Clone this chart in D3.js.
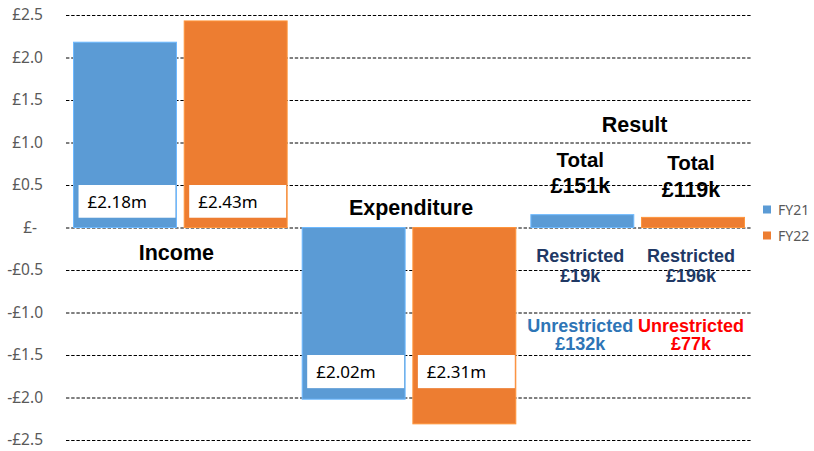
<!DOCTYPE html>
<html>
<head>
<meta charset="utf-8">
<script src="https://cdn.jsdelivr.net/npm/d3@7"></script>
<style>
  body { margin: 0; background: #fff; }
  .tick text { font-family: "Noto Sans", sans-serif; font-size: 15.5px; fill: #595959; }
  .tick line { stroke: #000; stroke-dasharray: 3.4 1.8; }
</style>
</head>
<body>
<svg id="chart" width="814" height="451"></svg>
<script>
// values in £m
const categories = ["Income", "Expenditure", "Result"];
const seriesNames = ["FY21", "FY22"];
const fy21 = [2.18, -2.02, 0.151];
const fy22 = [2.43, -2.31, 0.119];
const valueLabels = { FY21: ["£2.18m", "£2.02m"], FY22: ["£2.43m", "£2.31m"] };
const yTicks = [2.5, 2.0, 1.5, 1.0, 0.5, 0, -0.5, -1.0, -1.5, -2.0, -2.5];
const totals = ["£151k", "£119k"];
const restricted = ["£19k", "£196k"];
const unrestricted = ["£132k", "£77k"];

const colors = { FY21: "#5B9BD5", FY22: "#ED7D31" };
const left = 66, right = 752;

const svg = d3.select("#chart");

const y = d3.scaleLinear().domain([-2.5, 2.5]).range([440, 15]);
const x0 = d3.scaleBand().domain(categories).range([left, right]);
const x1 = d3.scaleBand().domain(seriesNames).range([0, x0.bandwidth()])
    .paddingInner(0.07).paddingOuter(0.068);

const fmt = v => v === 0 ? "£-" : (v < 0 ? "-" : "") + "£" + Math.abs(v).toFixed(1);

// gridlines + tick labels
const yAxis = svg.append("g")
    .attr("transform", "translate(" + left + ",0)")
    .call(d3.axisLeft(y).tickValues(yTicks).tickFormat(fmt)
        .tickSize(-(right - left)).tickPadding(23));
yAxis.select(".domain").remove();
yAxis.selectAll(".tick text").filter(d => d === 0).attr("dx", -6);

const rows = categories.map((c, i) => ({ cat: c, FY21: fy21[i], FY22: fy22[i] }));

const groups = svg.selectAll(".cat")
    .data(rows)
    .enter().append("g")
    .attr("class", "cat")
    .attr("transform", d => "translate(" + x0(d.cat) + ",0)");

groups.selectAll("rect.bar")
    .data(d => seriesNames.map(s => ({ cat: d.cat, s: s, v: d[s] })))
    .enter().append("rect")
    .attr("class", "bar")
    .attr("x", d => x1(d.s))
    .attr("width", x1.bandwidth())
    .attr("y", d => y(Math.max(0, d.v)))
    .attr("height", d => Math.abs(y(d.v) - y(0)))
    .attr("fill", d => colors[d.s])
    .attr("stroke", d => d3.color(colors[d.s]).brighter(0.5))
    .attr("stroke-width", 1);

// white value boxes inside income / expenditure bars
const boxAt = { Income: [0.5, 0.115], Expenditure: [-1.5, -1.89] };
categories.slice(0, 2).forEach((c, i) => {
    seriesNames.forEach(s => {
        const bx = x0(c) + x1(s) + 5;
        const top = y(boxAt[c][0]), bottom = y(boxAt[c][1]);
        svg.append("rect")
            .attr("x", bx).attr("y", top)
            .attr("width", x1.bandwidth() - 6)
            .attr("height", bottom - top)
            .attr("fill", "#fff");
        svg.append("text")
            .attr("x", bx + 9).attr("y", bottom - 9.7)
            .attr("font-family", "Noto Sans, sans-serif")
            .attr("font-size", 17)
            .attr("fill", "#000")
            .text(valueLabels[s][i]);
    });
});

// category titles
const titleAt = { Income: [-4, -0.38], Expenditure: [2, 0.147], Result: [-3, 1.12] };
categories.forEach(c => {
    svg.append("text")
        .attr("x", x0(c) + x0.bandwidth() / 2 + titleAt[c][0])
        .attr("y", y(titleAt[c][1]))
        .attr("text-anchor", "middle")
        .attr("font-family", "Liberation Sans, Arial, sans-serif")
        .attr("font-weight", "bold")
        .attr("font-size", 21.5)
        .attr("fill", "#000")
        .text(c);
});

// result breakdown
function note(s, i, txt, v, size, color) {
    svg.append("text")
        .attr("x", x0("Result") + x1(s) + x1.bandwidth() / 2 - 2)
        .attr("y", y(v))
        .attr("text-anchor", "middle")
        .attr("font-family", "Liberation Sans, Arial, sans-serif")
        .attr("font-weight", "bold")
        .attr("font-size", size)
        .attr("fill", color)
        .text(txt);
}
const totalAt = [[0.715, 0.402], [0.676, 0.362]];
const unrColors = ["#2E75B6", "#FF0000"];
seriesNames.forEach((s, i) => {
    note(s, i, "Total", totalAt[i][0], 20.5, "#000");
    note(s, i, totals[i], totalAt[i][1], 21.5, "#000");
    note(s, i, "Restricted", -0.402, 18, "#203864");
    note(s, i, restricted[i], -0.638, 18, "#203864");
    note(s, i, "Unrestricted", -1.226, 18, unrColors[i]);
    note(s, i, unrestricted[i], -1.441, 18, unrColors[i]);
});

// legend
const legend = svg.selectAll(".legend")
    .data(seriesNames)
    .enter().append("g")
    .attr("class", "legend")
    .attr("transform", (d, i) => "translate(763," + (205.5 + i * 26) + ")");
legend.append("rect")
    .attr("width", 8).attr("height", 8)
    .attr("fill", d => colors[d]);
legend.append("text")
    .attr("x", 15).attr("y", 9.5)
    .attr("font-family", "Noto Sans, sans-serif")
    .attr("font-size", 14)
    .attr("fill", "#595959")
    .text(d => d);
</script>
</body>
</html>
